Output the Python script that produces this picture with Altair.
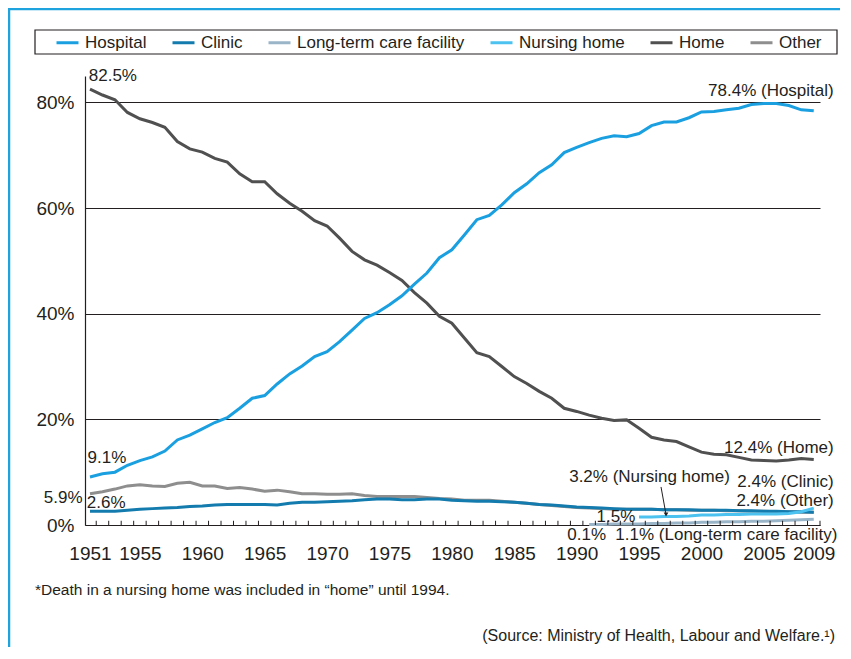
import altair as alt
import pandas as pd

FONT = "Liberation Sans"
TXT = "#231F20"

years = list(range(1951, 2010))
hospital = [9.1, 9.7, 10.0, 11.3, 12.2, 12.9, 14.0, 16.1, 17.0, 18.2,
            19.4, 20.3, 22.1, 24.0, 24.5, 26.7, 28.6, 30.1, 31.9, 32.8,
            34.7, 36.9, 39.1, 40.2, 41.7, 43.4, 45.6, 47.7, 50.6, 52.1,
            54.9, 57.8, 58.6, 60.6, 62.9, 64.6, 66.7, 68.2, 70.5, 71.5,
            72.4, 73.2, 73.7, 73.5, 74.1, 75.6, 76.3, 76.3, 77.1, 78.2,
            78.3, 78.6, 78.9, 79.6, 79.8, 79.8, 79.4, 78.6, 78.4]
home = [82.5, 81.4, 80.5, 78.1, 76.9, 76.2, 75.3, 72.6, 71.2, 70.6,
        69.4, 68.7, 66.5, 65.0, 65.0, 62.7, 60.9, 59.4, 57.6, 56.6,
        54.3, 51.8, 50.2, 49.2, 47.8, 46.3, 44.0, 42.0, 39.5, 38.2,
        35.4, 32.6, 31.9, 30.0, 28.1, 26.8, 25.3, 24.0, 22.1, 21.5,
        20.8, 20.2, 19.8, 19.9, 18.3, 16.6, 16.1, 15.8, 14.8, 13.8,
        13.4, 13.3, 12.8, 12.3, 12.2, 12.1, 12.3, 12.6, 12.4]
other = [5.9, 6.3, 6.8, 7.4, 7.6, 7.4, 7.3, 7.9, 8.1, 7.4,
         7.4, 6.9, 7.1, 6.8, 6.4, 6.6, 6.3, 5.9, 5.9, 5.8,
         5.8, 5.9, 5.6, 5.4, 5.4, 5.4, 5.4, 5.2, 5.0, 4.9,
         4.7, 4.7, 4.7, 4.5, 4.3, 4.1, 3.9, 3.7, 3.5, 3.3,
         3.2, 3.1, 3.0, 3.0, 3.0, 3.0, 2.9, 2.9, 2.8, 2.8,
         2.8, 2.7, 2.7, 2.6, 2.6, 2.5, 2.5, 2.4, 2.4]
clinic = [2.6, 2.6, 2.6, 2.8, 3.0, 3.1, 3.2, 3.3, 3.5, 3.6,
          3.8, 3.9, 3.9, 3.9, 3.9, 3.8, 4.1, 4.3, 4.3, 4.4,
          4.5, 4.6, 4.8, 4.9, 4.9, 4.8, 4.8, 4.9, 4.9, 4.7,
          4.6, 4.5, 4.5, 4.4, 4.3, 4.1, 3.9, 3.8, 3.6, 3.4,
          3.3, 3.2, 3.1, 3.0, 3.0, 3.0, 2.9, 2.9, 2.9, 2.8,
          2.8, 2.8, 2.7, 2.7, 2.6, 2.6, 2.5, 2.5, 2.4]
nh_years = list(range(1995, 2010))
nursing_home = [1.5, 1.5, 1.6, 1.6, 1.7, 1.9, 1.9, 2.0, 2.0, 2.1, 2.1, 2.1, 2.2, 2.5, 3.2]
ltc_years = list(range(1991, 2010))
ltc = [0.1, 0.1, 0.2, 0.2, 0.2, 0.3, 0.3, 0.4, 0.4, 0.5, 0.5, 0.6, 0.6, 0.7, 0.7, 0.8, 0.9, 1.0, 1.1]

series_names = ["Hospital", "Clinic", "Long-term care facility", "Nursing home", "Home", "Other"]
series_colors = ["#1AA0E0", "#137BAE", "#9BB5C8", "#4CC2F0", "#505050", "#8E8E8E"]

label_years = [1951, 1955, 1960, 1965, 1970, 1975, 1980, 1985, 1990, 1995, 2000, 2005, 2009]
y_ticks = [0, 20, 40, 60, 80]

rows = []
def add(name, ys, vals, order):
    for yr, v in zip(ys, vals):
        rows.append({"year": yr, "pct": v, "series": name, "ord": order})

add("Other", years, other, 0)
add("Clinic", years, clinic, 1)
add("Long-term care facility", ltc_years, ltc, 2)
add("Nursing home", nh_years, nursing_home, 3)
add("Home", years, home, 4)
add("Hospital", years, hospital, 5)
df = pd.DataFrame(rows)

ticks_df = pd.DataFrame({"year": [y + 0.5 for y in years]})

ann_left = pd.DataFrame({
    "label": ["82.5%", "9.1%", "2.6%", "3.2% (Nursing home)", "1.1% (Long-term care facility)"],
    "year": [1950.9, 1950.8, 1950.75, 1989.4, 1993.1],
    "pct": [85.0, 12.7, 4.2, 9.15, -1.9],
})
ann_right = pd.DataFrame({
    "label": ["78.4% (Hospital)", "12.4% (Home)", "2.4% (Clinic)", "2.4% (Other)", "1.5%", "5.9%"],
    "year": [2010.6, 2010.6, 2010.6, 2010.6, 1994.7, 1950.4],
    "pct": [82.1, 14.6, 8.15, 4.6, 1.6, 5.1],
})
ann_center = pd.DataFrame({"label": ["0.1%"], "year": [1990.8], "pct": [-1.9]})
arrow_df = pd.DataFrame({"year": [1996.76], "pct": [7.2], "year2": [1997.16], "pct2": [2.0]})

xs = alt.Scale(domain=[1950.6, 2009.5], nice=False, zero=False)
ys = alt.Scale(domain=[0, 85], nice=False)
one = alt.Data(values=[{"a": 1}])

frame = alt.Chart(one).mark_rect(fill="transparent", stroke="#1FA3DF", strokeWidth=2.5).encode(
    x=alt.value(-76), x2=alt.value(800), y=alt.value(-67), y2=alt.value(700))
legend_box = alt.Chart(one).mark_rect(fill="transparent", stroke=TXT, strokeWidth=1.2).encode(
    x=alt.value(-50), x2=alt.value(752), y=alt.value(-46), y2=alt.value(-22))

lines = alt.Chart(df).mark_line(strokeWidth=3).encode(
    x=alt.X("year:Q", scale=xs, axis=alt.Axis(
        values=label_years, format="d", title=None, grid=False, ticks=False, tickSize=0,
        labelFontSize=19, labelFont=FONT, labelColor=TXT, labelPadding=19,
        labelFlush=False, labelOverlap=False, domainColor=TXT, domainWidth=1.2)),
    y=alt.Y("pct:Q", scale=ys, axis=alt.Axis(
        values=y_ticks, labelExpr="datum.value + '%'", title=None, grid=True,
        gridColor=TXT, gridWidth=1.2, gridOpacity=1, ticks=False, tickSize=0,
        labelFontSize=19, labelFont=FONT, labelColor=TXT, labelPadding=11,
        domainColor=TXT, domainWidth=1.2)),
    color=alt.Color("series:N", scale=alt.Scale(domain=series_names, range=series_colors),
                    legend=alt.Legend(orient="none", legendX=-30, legendY=-46, direction="horizontal",
                                      columns=6, title=None, symbolType="stroke", symbolStrokeWidth=3,
                                      symbolSize=484, labelFontSize=17, labelFont=FONT, labelColor=TXT,
                                      labelLimit=400, columnPadding=19, labelOffset=5, padding=0)),
    order=alt.Order("ord:Q"),
    detail="series:N",
)

ticks = alt.Chart(ticks_df).mark_rule(color=TXT, strokeWidth=1).encode(
    x=alt.X("year:Q", scale=xs), y=alt.datum(0), y2=alt.datum(0.8))

def txt(d, align):
    return alt.Chart(d).mark_text(align=align, baseline="middle", font=FONT, fontSize=17, color=TXT).encode(
        x=alt.X("year:Q", scale=xs), y=alt.Y("pct:Q", scale=ys), text="label:N")

arrow = alt.Chart(arrow_df).mark_rule(color=TXT, strokeWidth=1).encode(
    x=alt.X("year:Q", scale=xs), y=alt.Y("pct:Q", scale=ys), x2="year2:Q", y2="pct2:Q")
head = alt.Chart(arrow_df).mark_point(shape="triangle-down", filled=True, color=TXT, size=22, opacity=1).encode(
    x=alt.X("year2:Q", scale=xs), y=alt.Y("pct2:Q", scale=ys))

foot = alt.Chart(one).mark_text(align="left", baseline="middle", font=FONT, fontSize=15.5, color=TXT).encode(
    x=alt.value(-50), y=alt.value(514),
    text=alt.value("*Death in a nursing home was included in \u201chome\u201d until 1994."))
source = alt.Chart(one).mark_text(align="right", baseline="middle", font=FONT, fontSize=16, color=TXT).encode(
    x=alt.value(750), y=alt.value(560),
    text=alt.value("(Source: Ministry of Health, Labour and Welfare.\u00b9)"))

chart = alt.layer(
    frame, legend_box, lines, ticks,
    txt(ann_left, "left"), txt(ann_right, "right"), txt(ann_center, "center"),
    arrow, head, foot, source,
).properties(
    width=735, height=449,
    autosize=alt.AutoSizeParams(type="none"),
    padding={"left": 77, "top": 68, "right": 20, "bottom": 122},
).configure_view(stroke="transparent")

chart.save("out.html", embed_options={"renderer": "svg", "actions": False})
